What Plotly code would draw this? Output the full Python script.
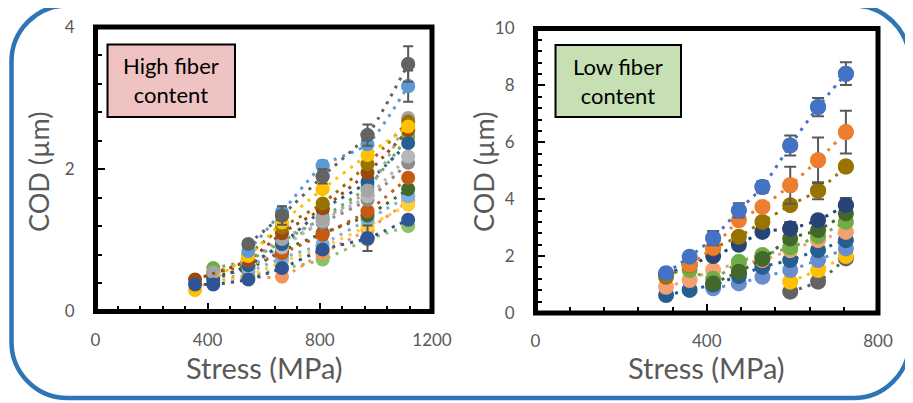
import plotly.graph_objects as go

W, H = 913, 403
OFF = 8  # page body margin compensation
FONT = "Lato"
TXT = "#595959"

# ---------------- data: high fiber content ----------------
hf_stress = [355, 420, 545, 665, 810, 970, 1115]
hf_series = [
    # (color, values, error)
    ("#8CC168", [None, 0.42, 0.50, 0.60, 0.73, 1.01, 1.20], None),
    ("#F1975A", [None, 0.50, 0.49, 0.49, 0.82, 1.15, 1.55], None),
    ("#FFCD33", [None, 0.40, 0.50, 0.70, 0.90, 1.20, 1.50], None),
    ("#7CAFDD", [None, None, 0.55, 0.75, 0.95, 1.29, 1.62], None),
    ("#43682B", [None, 0.50, 0.60, 0.85, 1.10, 1.35, 1.72], None),
    ("#C55A11", [None, 0.54, 0.65, 0.82, 1.08, 1.41, 1.88], None),
    ("#8C8C8C", [None, None, 0.60, 0.95, 1.25, 1.57, 2.09], None),
    ("#B7B7B7", [None, None, 0.62, 0.90, 1.28, 1.62, 2.18], None),
    ("#70AD47", [None, 0.61, 0.72, 0.98, 1.32, 1.75, 2.46], None),
    ("#255E91", [None, 0.45, 0.65, 0.95, 1.43, 1.82, 2.37], None),
    ("#A5A5A5", [None, 0.55, 0.72, 1.02, 1.30, 1.70, 2.72], None),
    ("#9E480E", [0.45, None, 0.72, 1.10, 1.45, 1.95, 2.55], None),
    ("#997300", [None, None, 0.80, 1.18, 1.52, 2.07, 2.67], None),
    ("#FFC000", [0.30, None, 0.78, 1.25, 1.72, 2.20, 2.60], None),
    ("#2F5597", [0.38, 0.38, 0.45, 0.61, 0.87, 1.03, 1.29], [0, 0, 0, 0, 0, 0.18, 0]),
    ("#5B9BD5", [None, None, 0.85, 1.40, 2.05, 2.35, 3.17], [0, 0, 0, 0, 0.07, 0, 0.22]),
    ("#636363", [None, None, 0.95, 1.35, 1.90, 2.48, 3.48], [0, 0, 0, 0.13, 0.10, 0.15, 0.25]),
]

# ---------------- data: low fiber content ----------------
lf_stress = [305, 360, 415, 475, 530, 595, 660, 725]
lf_series = [
    ("#636363", [None, None, None, None, None, 0.75, 1.10, 1.92], None),
    ("#FFC000", [None, None, None, None, None, 1.10, 1.51, 2.00], None),
    ("#698ED0", [None, None, 0.87, 1.04, 1.27, 1.51, 1.86, 2.27], None),
    ("#255E91", [0.63, 0.81, 1.00, 1.30, 1.62, 1.86, 2.21, 2.56], None),
    ("#F4A070", [0.92, 1.16, 1.51, 1.74, 1.86, 2.21, 2.56, 2.85], None),
    ("#70AD47", [None, 1.51, 1.20, 1.80, 2.04, 2.30, 2.70, 3.20], None),
    ("#43682B", [None, None, 1.04, 1.45, 1.90, 2.62, 2.91, 3.50], None),
    ("#264478", [1.35, 1.70, 2.00, 2.40, 2.85, 2.97, 3.26, 3.79], [0, 0, 0, 0, 0, 0.23, 0, 0.25]),
    ("#997300", [1.27, 1.68, 2.27, 2.68, 3.20, 3.79, 4.30, 5.15], [0, 0, 0, 0, 0, 0, 0.30, 0.08]),
    ("#ED7D31", [None, 1.70, 2.30, 3.26, 3.73, 4.49, 5.37, 6.36], [0, 0, 0, 0, 0, 0.65, 0.80, 0.75]),
    ("#4472C4", [1.40, 1.98, 2.63, 3.61, 4.43, 5.89, 7.24, 8.41], [0, 0, 0.25, 0.25, 0.20, 0.35, 0.32, 0.40]),
]

# axis ranges
hf_x_range, hf_y_range = [0, 1200], [0, 4]
lf_x_range, lf_y_range = [0, 800], [0, 10]


def px(x):
    return (x - OFF) / W


def py(y):
    return 1 - (y - OFF) / H


fig = go.Figure()

DOT = "3px,6px"


def add_series(series, stress, xa, ya, msize, capw):
    err_traces = []
    for color, vals, err in series:
        fig.add_trace(go.Scatter(
            x=stress, y=vals, xaxis=xa, yaxis=ya, mode="lines+markers",
            connectgaps=True, line=dict(color=color, width=3, dash=DOT, shape="spline", smoothing=0.6),
            marker=dict(color=color, size=msize, line=dict(width=0)),
            showlegend=False, hoverinfo="skip"))
        if err:
            ex = [s for s, v, e in zip(stress, vals, err) if e and v is not None]
            ey = [v for s, v, e in zip(stress, vals, err) if e and v is not None]
            ee = [e for e in err if e]
            err_traces.append((color, ex, ey, ee))
    for color, ex, ey, ee in err_traces:
        fig.add_trace(go.Scatter(
            x=ex, y=ey, xaxis=xa, yaxis=ya, mode="markers",
            marker=dict(color=color, size=msize, line=dict(width=0)),
            error_y=dict(type="data", array=ee, visible=True, color="#595959",
                         thickness=2, width=capw),
            showlegend=False, hoverinfo="skip"))


add_series(hf_series, hf_stress, "x", "y", 14, 5)
add_series(lf_series, lf_stress, "x2", "y2", 16, 6)

tick_common = dict(
    showgrid=False, zeroline=False, showline=False, automargin=False,
    ticks="inside", ticklen=9, tickwidth=1.5, tickcolor="black",
    tickfont=dict(family=FONT, size=17, color=TXT),
)
minor_common = dict(ticks="inside", ticklen=6, tickwidth=1.5, tickcolor="black")

fig.update_layout(
    width=W, height=H, autosize=False,
    margin=dict(l=0, r=0, t=0, b=0, pad=0, autoexpand=False),
    paper_bgcolor="white", plot_bgcolor="white",
    xaxis=dict(domain=[px(95.5), px(432)], range=hf_x_range, tick0=0, dtick=400,
               anchor="y", ticklabelstandoff=16, minor=dict(dtick=80, **minor_common),
               **tick_common),
    yaxis=dict(domain=[py(311.5), py(27)], range=hf_y_range, tick0=0, dtick=2,
               anchor="x", ticklabelstandoff=20, minor=dict(dtick=0.4, **minor_common),
               **tick_common),
    xaxis2=dict(domain=[px(535.5), px(878)], range=lf_x_range, tick0=0, dtick=400,
                anchor="y2", ticklabelstandoff=16, minor=dict(dtick=80, **minor_common),
                **tick_common),
    yaxis2=dict(domain=[py(313), py(28.5)], range=lf_y_range, tick0=0, dtick=2,
                anchor="x2", ticklabelstandoff=20, minor=dict(dtick=0.4, **minor_common),
                **tick_common),
)

shapes = []
# plot frames
for xr, yr in (("x domain", "y domain"), ("x2 domain", "y2 domain")):
    shapes.append(dict(type="rect", xref=xr, yref=yr, x0=0, x1=1, y0=0, y1=1,
                       line=dict(color="black", width=5), layer="above"))

# rounded blue outer border
x0, x1, y0, y1, r = 11.5, 909.5, 5.5, 398.0, 56
k = 0.5523 * r


def P(x, y):
    return f"{px(x):.5f},{py(y):.5f}"


path = (f"M{P(x0 + r, y0)} L{P(x1 - r, y0)} "
        f"C{P(x1 - r + k, y0)} {P(x1, y0 + r - k)} {P(x1, y0 + r)} "
        f"L{P(x1, y1 - r)} "
        f"C{P(x1, y1 - r + k)} {P(x1 - r + k, y1)} {P(x1 - r, y1)} "
        f"L{P(x0 + r, y1)} "
        f"C{P(x0 + r - k, y1)} {P(x0, y1 - r + k)} {P(x0, y1 - r)} "
        f"L{P(x0, y0 + r)} "
        f"C{P(x0, y0 + r - k)} {P(x0 + r - k, y0)} {P(x0 + r, y0)} Z")
shapes.append(dict(type="path", xref="paper", yref="paper", path=path,
                   line=dict(color="#2E75B6", width=4.5), layer="below"))

# label boxes
shapes.append(dict(type="rect", xref="paper", yref="paper",
                   x0=px(107.5), x1=px(235), y0=py(117), y1=py(44.5),
                   fillcolor="#F0C3C3", line=dict(color="black", width=2), layer="above"))
shapes.append(dict(type="rect", xref="paper", yref="paper",
                   x0=px(555.5), x1=px(681), y0=py(117), y1=py(45),
                   fillcolor="#C6E0B4", line=dict(color="black", width=2), layer="above"))
fig.update_layout(shapes=shapes)

ann = [
    dict(text="High fiber<br>content", x=px(171), y=py(80.5), font=dict(family=FONT, size=22, color="black")),
    dict(text="Low fiber<br>content", x=px(618), y=py(81), font=dict(family=FONT, size=22, color="black")),
    dict(text="COD (µm)", x=px(38), y=py(172), textangle=-90, font=dict(family=FONT, size=27, color=TXT)),
    dict(text="COD (µm)", x=px(483), y=py(172), textangle=-90, font=dict(family=FONT, size=27, color=TXT)),
    dict(text="Stress (MPa)", x=px(264), y=py(367), font=dict(family=FONT, size=29, color=TXT)),
    dict(text="Stress (MPa)", x=px(706), y=py(367), font=dict(family=FONT, size=29, color=TXT)),
]
for a in ann:
    a.update(xref="paper", yref="paper", showarrow=False, xanchor="center", yanchor="middle")
fig.update_layout(annotations=ann)

fig.write_html("out.html")
